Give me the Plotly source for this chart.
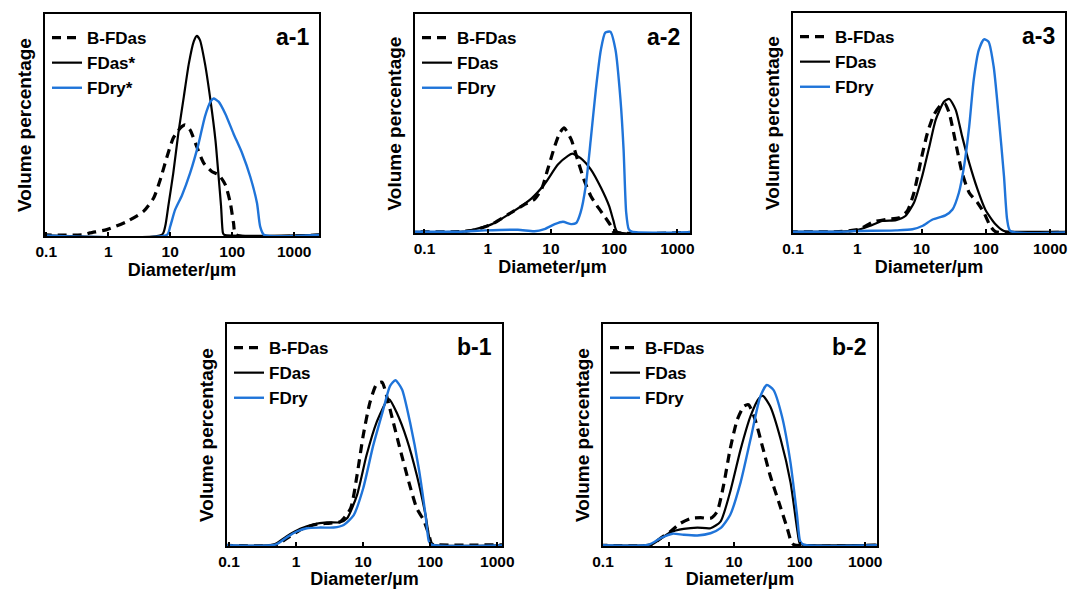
import plotly.graph_objects as go

# ---- particle size distributions (diameter in µm, volume in arbitrary %) ----
# panel a-1
a1_bfdas_d = [0.05, 0.4, 0.51, 0.95, 2.0, 3.7, 5.4, 6.9, 8.9, 11.2, 14.5, 17.4, 20.9, 26.9, 34.7, 46.8, 60.3, 77.6, 93.3, 105, 115, 3000]
a1_bfdas_v = [0, 0, 0.8, 2.3, 6, 10.6, 16.7, 25, 35.6, 44, 48.5, 50, 47.7, 40, 32.6, 28.8, 27.3, 22.7, 14.4, 5.3, 0, 0]
a1_fdas_d = [0.05, 7.4, 8.3, 9.3, 11.2, 13.5, 16.6, 20, 24, 26.9, 30.2, 36.3, 44.7, 53.7, 60.3, 66.1, 70.8, 74.1, 3000]
a1_fdas_v = [0, 0, 3.8, 12.9, 28, 46, 63, 78, 88, 90.5, 88.6, 78, 61, 43, 26.5, 12.9, 0.8, 0, 0]
a1_fdry_d = [0.05, 8.9, 10, 12, 15.5, 20.9, 28.8, 36.3, 44.7, 50.1, 60.3, 77.6, 105, 145, 195, 251, 282, 324, 3000]
a1_fdry_v = [0, 0, 3.8, 11.4, 18, 28, 41.7, 53.8, 60.6, 62, 60.6, 55, 46, 37, 26.5, 14.4, 3.8, 0, 0]

# panel a-2
a2_bfdas_d = [0.05, 0.35, 0.65, 1.17, 2.14, 3.9, 5.5, 7.1, 8.9, 11.5, 13.8, 16.2, 20.9, 26.3, 33.9, 42.7, 53.7, 72.4, 87.1, 97.7, 3000]
a2_bfdas_v = [0, 0, 0.9, 3.5, 8.1, 12.7, 15, 19.6, 28.8, 39.5, 45.6, 47.9, 42.6, 33.4, 23.4, 16.5, 11.9, 6.6, 3.1, 0, 0]
a2_fdas_d = [0.05, 0.4, 0.58, 1.17, 2.4, 4.9, 7.9, 12.9, 18.6, 21.9, 29.5, 42.7, 61.7, 83.2, 97.7, 112, 3000]
a2_fdas_v = [0, 0, 0.9, 3.5, 8.9, 15.3, 21.9, 31, 35, 36, 34, 28.8, 20.4, 11.9, 5, 0, 0]
a2_fdry_d = [0.05, 0.35, 0.91, 3.0, 5.5, 7.9, 11.5, 15.5, 20.9, 25.1, 29.5, 35.5, 42.7, 51.3, 61.7, 72.4, 87.1, 105, 126, 141, 155, 170, 191, 3000]
a2_fdry_v = [0, 0, 0.6, 0.9, 0.2, 1.2, 3.5, 4.6, 3.5, 4, 8.9, 21, 42.6, 65.5, 84, 91.9, 92.3, 84, 61, 38, 8.9, 1.2, 0, 0]

# panel a-3
a3_bfdas_d = [0.05, 0.52, 1.07, 1.74, 2.75, 4.47, 6.0, 7.6, 9.8, 12.3, 15.5, 20, 22.9, 26.9, 33.9, 42.7, 55, 74.1, 93.3, 117, 141, 3000]
a3_bfdas_v = [0, 0, 1.1, 4.4, 5.6, 6.4, 9.5, 17.9, 33, 45.3, 53.7, 58.3, 59, 54.5, 40.8, 27, 17.9, 13.3, 8.7, 2.6, 0, 0]
a3_fdas_d = [0.05, 0.52, 0.95, 1.55, 2.45, 4.0, 5.6, 7.6, 10.2, 13.2, 16.6, 22.4, 26.9, 33.9, 42.7, 55, 74.1, 97.7, 141, 191, 229, 3000]
a3_fdas_v = [0, 0, 0.6, 2.6, 4.9, 5.3, 7.2, 13.3, 25.5, 39.2, 51.5, 59.8, 61, 56, 43.8, 31.6, 19.4, 10.2, 3.4, 0.3, 0, 0]
a3_fdry_d = [0.05, 0.52, 0.95, 4.0, 7.2, 10.2, 14.8, 23.4, 30.2, 38, 45.7, 55, 64.6, 77.6, 93.3, 110, 132, 158, 191, 214, 240, 3000]
a3_fdry_v = [0, 0, 0.3, 0.6, 1.1, 2.6, 5.6, 7.5, 10.2, 17.9, 30, 48.4, 69.8, 83.5, 88.4, 87.3, 75.9, 53, 25.5, 5.6, 0.3, 0]

# panel b-1
b1_bfdas_d = [0.05, 0.51, 0.81, 1.29, 2.04, 3.24, 4.57, 6.5, 8.1, 10, 12.6, 15.8, 19.1, 22.4, 28.2, 35.5, 47.9, 63.1, 79.4, 95.5, 105, 115, 3000]
b1_bfdas_v = [0, 0, 3.8, 7.5, 9.3, 9.8, 10.5, 16.5, 31.6, 49.6, 64.7, 73, 74, 67.7, 55.6, 43.6, 28.6, 16.5, 11.3, 4.5, 0.3, 0, 0]
b1_fdas_d = [0.05, 0.46, 0.72, 1.15, 1.82, 2.88, 4.57, 5.75, 8.1, 11.2, 15.8, 22.4, 24.5, 31.6, 44.7, 63.1, 85.1, 100, 112, 3000]
b1_fdas_v = [0, 0, 3.8, 7.2, 9.3, 10.2, 10.2, 12, 22.6, 40.6, 55.6, 65.4, 66.2, 60.2, 48.1, 31.6, 13.5, 1.5, 0, 0]
b1_fdry_d = [0.05, 0.49, 0.72, 1.02, 1.45, 2.29, 3.63, 5.13, 7.24, 10, 14.1, 20, 25.1, 30.2, 38, 50.1, 67.6, 85.1, 95.5, 105, 3000]
b1_fdry_v = [0, 0, 3.3, 6, 7.5, 7.8, 7.8, 9, 13.5, 25.6, 45.1, 61.7, 72.2, 74.9, 70.7, 55.6, 34.6, 13.5, 1.5, 0, 0]

# panel b-2
b2_bfdas_d = [0.05, 0.54, 0.76, 1.07, 1.51, 2.19, 3.09, 4.37, 5.5, 6.9, 8.7, 11.2, 14.1, 16.6, 20.9, 26.9, 35.5, 47.9, 64.6, 74.1, 81.3, 3000]
b2_bfdas_v = [0, 0, 3, 6, 9.7, 12, 12.3, 12, 15, 27, 43.5, 57, 63, 63.7, 57, 45, 31.5, 19.5, 7.5, 1.5, 0, 0]
b2_fdas_d = [0.05, 0.54, 0.76, 1.07, 1.70, 2.75, 4.37, 6.2, 8.7, 12.6, 17.8, 24, 27.5, 35.5, 51.3, 72.4, 91.2, 100, 110, 3000]
b2_fdas_v = [0, 0, 2.7, 5.7, 7.2, 7.8, 7.5, 10.5, 24, 43.5, 58.5, 66.7, 67.8, 63, 48, 28.5, 7.5, 0.7, 0, 0]
b2_fdry_d = [0.05, 0.50, 0.76, 1.15, 1.70, 2.75, 4.37, 6.2, 8.7, 12.6, 17.8, 25.1, 31.6, 39.8, 53.7, 72.4, 91.2, 102, 115, 3000]
b2_fdry_v = [0, 0, 3, 5, 4.5, 4.2, 5.2, 7.5, 13.5, 28.5, 48, 67.5, 72.7, 70.5, 58.5, 37.5, 13.5, 1.5, 0, 0]

tick_vals = [0.1, 1, 10, 100, 1000]
tick_text = ["0.1", "1", "10", "100", "1000"]

# panel name, legend names, series, log10 x-range, pixel box (left, top, right, bottom)
panels = [
    ("a-1", ["B-FDas", "FDas*", "FDry*"],
     [(a1_bfdas_d, a1_bfdas_v), (a1_fdas_d, a1_fdas_v), (a1_fdry_d, a1_fdry_v)],
     [-1.02, 3.4], (45, 14, 319, 236)),
    ("a-2", ["B-FDas", "FDas", "FDry"],
     [(a2_bfdas_d, a2_bfdas_v), (a2_fdas_d, a2_fdas_v), (a2_fdry_d, a2_fdry_v)],
     [-1.15, 3.2], (415, 14, 690, 233)),
    ("a-3", ["B-FDas", "FDas", "FDry"],
     [(a3_bfdas_d, a3_bfdas_v), (a3_fdas_d, a3_fdas_v), (a3_fdry_d, a3_fdry_v)],
     [-1.0, 3.23], (793, 13, 1065, 233)),
    ("b-1", ["B-FDas", "FDas", "FDry"],
     [(b1_bfdas_d, b1_bfdas_v), (b1_fdas_d, b1_fdas_v), (b1_fdry_d, b1_fdry_v)],
     [-1.03, 3.07], (227, 324, 502, 546)),
    ("b-2", ["B-FDas", "FDas", "FDry"],
     [(b2_bfdas_d, b2_bfdas_v), (b2_fdas_d, b2_fdas_v), (b2_fdry_d, b2_fdry_v)],
     [-1.0, 3.18], (603, 324, 877, 546)),
]

W, H = 1069, 589
FONT = "Liberation Sans, Arial, Helvetica, sans-serif"
BLUE = "#1f74d9"
styles = [
    dict(color="black", width=3.2, dash="9px,6px"),
    dict(color="black", width=2.2),
    dict(color=BLUE, width=2.4),
]

fig = go.Figure()
layout = dict(
    width=W, height=H, margin=dict(l=0, r=0, t=0, b=0),
    paper_bgcolor="white", plot_bgcolor="white", showlegend=True,
    font=dict(family=FONT, color="black"),
)
annotations = []

for i, (name, names, series, xr, (L, T, R, B)) in enumerate(panels):
    k = "" if i == 0 else str(i + 1)
    leg = "legend" + k
    xdom = [L / W, R / W]
    ydom = [1 - B / H, 1 - T / H]
    for (d, v), nm, st in zip(series, names, styles):
        fig.add_trace(go.Scatter(
            x=d, y=v, mode="lines", name=nm, legend=leg,
            line=dict(shape="spline", smoothing=0.6, **st),
            xaxis="x" + k, yaxis="y" + k,
        ))
    layout["xaxis" + k] = dict(
        domain=xdom, anchor="y" + k, type="log", range=xr,
        tickvals=tick_vals, ticktext=tick_text, ticks="inside", ticklen=4,
        tickwidth=1.5, tickcolor="black", ticklabeloverflow="allow",
        tickfont=dict(family=FONT, size=15.5, color="black", weight="bold"),
        showline=True, linecolor="black", linewidth=2, mirror=True,
        showgrid=False, zeroline=False, automargin=False,
        title=dict(text="Diameter/µm", standoff=3,
                   font=dict(family=FONT, size=18, color="black", weight="bold")),
    )
    layout["yaxis" + k] = dict(
        domain=ydom, anchor="x" + k, range=[-0.6, 100.5],
        showticklabels=False, ticks="", showgrid=False, zeroline=False,
        showline=True, linecolor="black", linewidth=2, mirror=True,
        automargin=False,
        title=dict(text="Volume percentage", standoff=6,
                   font=dict(family=FONT, size=19, color="black", weight="bold")),
    )
    layout[leg] = dict(
        x=(L + 2) / W, y=1 - (T + 6) / H, xanchor="left", yanchor="top",
        bgcolor="rgba(0,0,0,0)", borderwidth=0, tracegroupgap=0,
        itemwidth=30,
        font=dict(family=FONT, size=17, color="black", weight="bold"),
    )
    annotations.append(dict(
        text=name, x=(R - 8) / W, y=1 - (T + 8) / H, xref="paper", yref="paper",
        xanchor="right", yanchor="top", showarrow=False,
        font=dict(family=FONT, size=23, color="black", weight="bold"),
    ))

layout["annotations"] = annotations
fig.update_layout(**layout)
fig.write_html("out.html")
